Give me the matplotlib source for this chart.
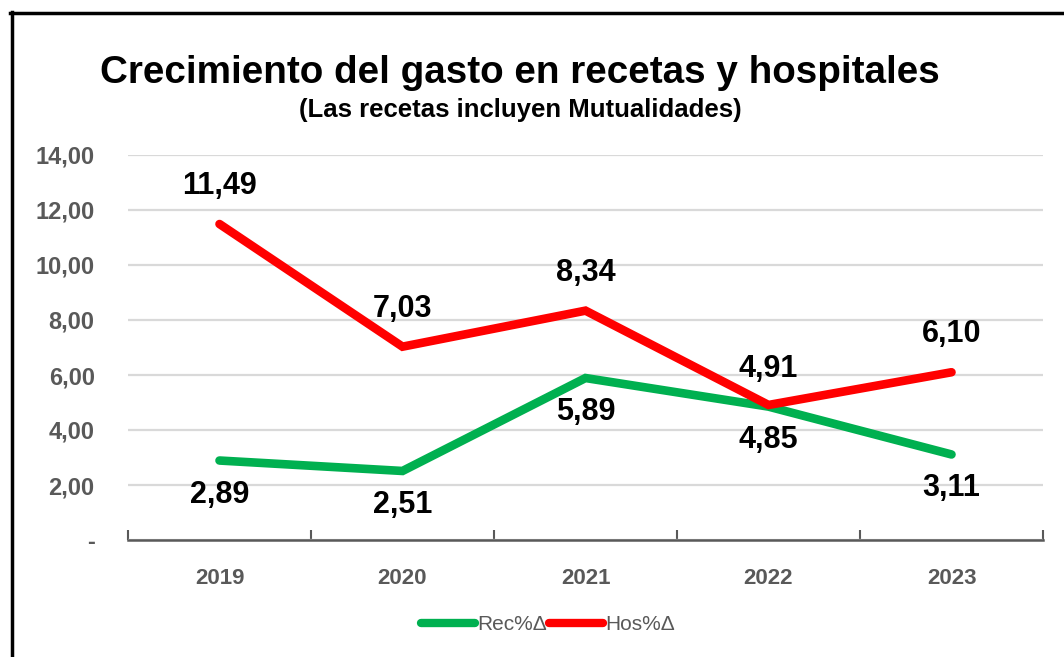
import matplotlib
matplotlib.use("Agg")
import matplotlib.pyplot as plt
from matplotlib.lines import Line2D

years = ["2019", "2020", "2021", "2022", "2023"]
rec = [2.89, 2.51, 5.89, 4.85, 3.11]
hos = [11.49, 7.03, 8.34, 4.91, 6.10]
yticks = [0, 2, 4, 6, 8, 10, 12, 14]
ytick_labels = ["-", "2,00", "4,00", "6,00", "8,00", "10,00", "12,00", "14,00"]

W, H = 1064, 657
fig = plt.figure(figsize=(W / 100, H / 100), dpi=100)
plt.rcParams['font.family'] = ['Liberation Sans', 'DejaVu Sans']

ax = fig.add_axes([128 / W, (H - 540) / H, (1043 - 128) / W, (540 - 155) / H])
x = list(range(len(years)))
green = "#00B050"
red = "#FF0000"
ax.plot(x, rec, color=green, lw=6.2, solid_capstyle='round', solid_joinstyle='miter', zorder=3)
ax.plot(x, hos, color=red, lw=6.2, solid_capstyle='round', solid_joinstyle='miter', zorder=3)

ax.set_xlim(-0.5, len(years) - 0.5)
ax.set_ylim(0, 14)
ax.set_yticks(yticks)
ax.set_yticklabels(ytick_labels)
ax.yaxis.grid(True, color="#D9D9D9", lw=1.6)
ax.set_axisbelow(True)
for s in ["top", "right", "left"]:
    ax.spines[s].set_visible(False)
ax.spines["bottom"].set_color("#595959")
ax.spines["bottom"].set_linewidth(1.8)
ax.tick_params(axis='y', length=0, pad=24, labelsize=17, labelcolor="#595959")
for t in ax.get_yticklabels():
    t.set_fontweight('bold')
ax.set_xticks(x)
ax.set_xticklabels(years)
ax.tick_params(axis='x', which='major', length=0, pad=20, labelsize=16, labelcolor="#595959")
for t in ax.get_xticklabels():
    t.set_fontweight('bold')
ax.set_xticks([i - 0.5 for i in range(len(years) + 1)], minor=True)
ax.tick_params(axis='x', which='minor', direction='in', length=7, width=1.5, color="#595959")

def fmt(v):
    return f"{v:.2f}".replace(".", ",")

hos_off = [38, 38, 38, 36, 38]
rec_off = [-34, -34, -34, -33, -34]
for i in x:
    ax.annotate(fmt(hos[i]), (i, hos[i]), xytext=(0, hos_off[i]), textcoords='offset pixels',
                ha='center', va='center', fontsize=22, fontweight='bold', color='black')
    ax.annotate(fmt(rec[i]), (i, rec[i]), xytext=(0, rec_off[i]), textcoords='offset pixels',
                ha='center', va='center', fontsize=22, fontweight='bold', color='black')

fig.text(520 / W, 1 - 73 / H, "Crecimiento del gasto en recetas y hospitales",
         ha='center', va='center', fontsize=27.8, fontweight='bold', color='black')
fig.text(520 / W, 1 - 110 / H, "(Las recetas incluyen Mutualidades)",
         ha='center', va='center', fontsize=18.5, fontweight='bold', color='black')

handles = [Line2D([], [], color=green, lw=6, solid_capstyle='round'),
           Line2D([], [], color=red, lw=6, solid_capstyle='round')]
leg = fig.legend(handles, ["Rec%Δ", "Hos%Δ"], loc='center', bbox_to_anchor=(548 / W, 1 - 625 / H),
                 ncol=2, frameon=False, fontsize=15, handlelength=2.6, handletextpad=0.1,
                 columnspacing=0.1)
for t in leg.get_texts():
    t.set_color("#595959")

# outer frame
fig.add_artist(Line2D([10 / W, 1.0], [1 - 13 / H, 1 - 13 / H], color='black', lw=2.5,
                      transform=fig.transFigure))
fig.add_artist(Line2D([12 / W, 12 / W], [0, 1 - 12 / H], color='black', lw=2.5,
                      transform=fig.transFigure))

fig.savefig("out.png", dpi=100)
